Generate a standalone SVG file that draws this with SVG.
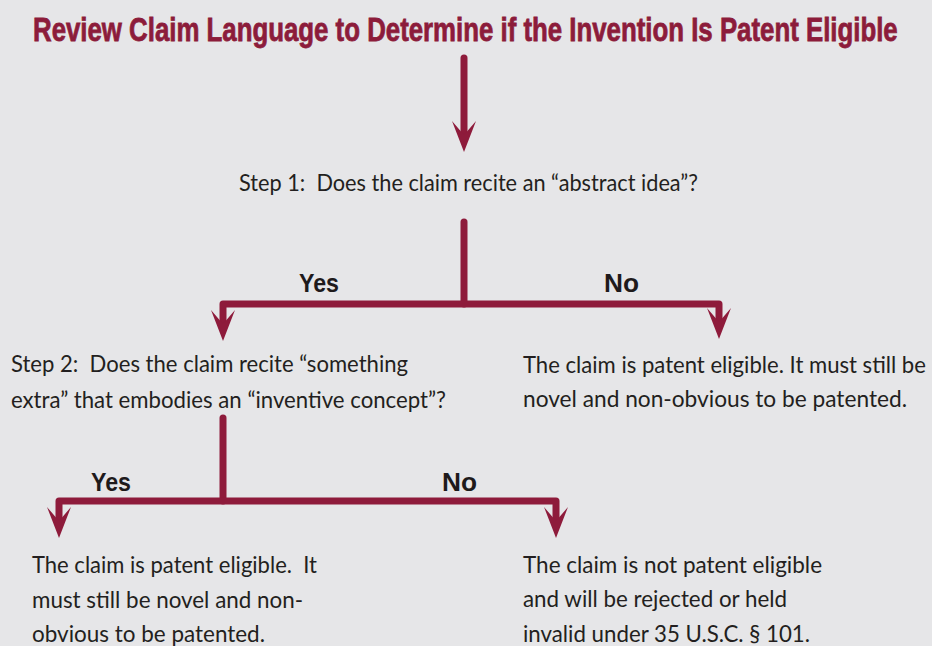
<svg xmlns="http://www.w3.org/2000/svg" width="932" height="646" viewBox="0 0 932 646">
<defs>
<style>
.bg{fill:#E6E6E8}
.title{font-family:"Liberation Sans",Arial,sans-serif;font-weight:bold;font-size:34px;fill:#8C1C3B;stroke:#8C1C3B;stroke-width:0.8}
.txt{font-family:Lato,"Liberation Sans",sans-serif;font-size:23px;fill:#231F20;white-space:pre}
.lbl{font-family:"Liberation Sans",Arial,sans-serif;font-weight:bold;font-size:25px;fill:#1E1A1B}
.wire{fill:none;stroke:#8E1B3B;stroke-width:7;stroke-linecap:round;stroke-linejoin:round}
.head{fill:#8E1B3B}
</style>
<path id="ah" d="M0,0 L-12,-31 L0,-17 L12,-31 Z"/>
</defs>
<rect class="bg" x="0" y="0" width="932" height="646"/>
<g id="title">
<text class="title" transform="translate(33,41) scale(0.72,1)" x="0" y="0" textLength="1201" lengthAdjust="spacingAndGlyphs">Review Claim Language to Determine if the Invention Is Patent Eligible</text>
</g>
<g id="connectors">
<path class="wire" d="M464,58 V137"/>
<use href="#ah" class="head" x="464" y="152"/>
<path class="wire" d="M464,222 V304"/>
<path class="wire" d="M223,325 V304 H719 V323"/>
<use href="#ah" class="head" x="223" y="341"/>
<use href="#ah" class="head" x="719" y="339"/>
<path class="wire" d="M223,418 V501"/>
<path class="wire" d="M59,522 V501 H556 V522"/>
<use href="#ah" class="head" x="59" y="538"/>
<use href="#ah" class="head" x="556" y="538"/>
<text class="lbl" x="299" y="292" textLength="40" lengthAdjust="spacingAndGlyphs">Yes</text>
<text class="lbl" x="604" y="292" textLength="35" lengthAdjust="spacingAndGlyphs">No</text>
<text class="lbl" x="91" y="491" textLength="40" lengthAdjust="spacingAndGlyphs">Yes</text>
<text class="lbl" x="442" y="491" textLength="35" lengthAdjust="spacingAndGlyphs">No</text>
</g>
<g id="step1">
<text class="txt" x="239" y="191" textLength="459" lengthAdjust="spacingAndGlyphs">Step 1:  Does the claim recite an “abstract idea”?</text>
</g>
<g id="step2">
<text class="txt" x="11" y="372" textLength="397" lengthAdjust="spacingAndGlyphs">Step 2:  Does the claim recite “something</text>
<text class="txt" x="11" y="408" textLength="435" lengthAdjust="spacingAndGlyphs">extra” that embodies an “inventive concept”?</text>
</g>
<g id="eligible1">
<text class="txt" transform="translate(523,373) scale(0.85,1)" x="0" y="0" textLength="474" lengthAdjust="spacingAndGlyphs">The claim is patent eligible. It must still be</text>
<text class="txt" x="523" y="407" textLength="384" lengthAdjust="spacingAndGlyphs">novel and non-obvious to be patented.</text>
</g>
<g id="eligible2">
<text class="txt" x="32" y="573" textLength="285" lengthAdjust="spacingAndGlyphs">The claim is patent eligible.  It</text>
<text class="txt" x="32" y="608" textLength="271" lengthAdjust="spacingAndGlyphs">must still be novel and non-</text>
<text class="txt" x="32" y="642" textLength="233" lengthAdjust="spacingAndGlyphs">obvious to be patented.</text>
</g>
<g id="not-eligible">
<text class="txt" x="523" y="573" textLength="299" lengthAdjust="spacingAndGlyphs">The claim is not patent eligible</text>
<text class="txt" x="523" y="607" textLength="264" lengthAdjust="spacingAndGlyphs">and will be rejected or held</text>
<text class="txt" x="523" y="642" textLength="287" lengthAdjust="spacingAndGlyphs">invalid under 35 U.S.C. § 101.</text>
</g>
</svg>
